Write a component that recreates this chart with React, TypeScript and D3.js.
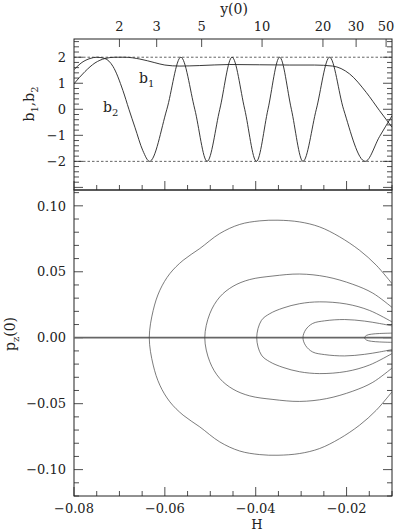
import React, { useEffect, useRef } from "react";
import * as d3 from "d3";

// top panel: b1, b2 against H
const b1H = [-0.08, -0.07758, -0.07538, -0.07319, -0.07099, -0.06879, -0.06549, -0.0622, -0.06, -0.0567, -0.05231, -0.04571, -0.03912, -0.03253, -0.02703, -0.02308, -0.01934, -0.01567, -0.01275, -0.01];
const b1Val = [0.98, 1.45, 1.78, 1.95, 2.0, 2.0, 1.93, 1.79, 1.7, 1.66, 1.68, 1.72, 1.71, 1.7, 1.7, 1.66, 1.36, 0.65, -0.05, -0.69];

const b2H = [-0.08, -0.07824, -0.07648, -0.07495, -0.07319, -0.07143, -0.06923, -0.06791, -0.06659, -0.06484, -0.06336, -0.05956, -0.05648, -0.05341, -0.0507, -0.04791, -0.04521, -0.04242, -0.03985, -0.0373, -0.03473, -0.03215, -0.0296, -0.02666, -0.02374, -0.02066, -0.01589, -0.01275, -0.01];
const b2Val = [1.52, 1.8, 1.95, 2.0, 1.95, 1.65, 0.72, 0.0, -0.69, -1.59, -2.0, 0.0, 2.0, 0.0, -2.0, 0.0, 2.0, 0.0, -2.0, 0.0, 2.0, 0.0, -2.0, 0.0, 2.0, 0.0, -2.0, -1.05, -0.25];

// top axis: y(0) labels and the H each one sits on
const y0Ticks = [2, 3, 5, 10, 20, 30, 50];
const y0AtH = [-0.07, -0.0618, -0.0519, -0.0386, -0.0252, -0.0179, -0.0113];

// bottom panel: p_z(0) loops, upper branch (the lower one is its mirror)
const loop1H = [-0.06343, -0.06257, -0.0611, -0.0589, -0.05598, -0.05231, -0.04791, -0.04352, -0.03912, -0.0351, -0.03033, -0.02593, -0.02154, -0.01714, -0.01347, -0.01];
const loop1P = [0, 0.0207, 0.036, 0.0486, 0.0587, 0.0676, 0.079, 0.0859, 0.0886, 0.0891, 0.0878, 0.084, 0.0765, 0.0663, 0.055, 0.041];
const loop2H = [-0.05121, -0.05011, -0.04791, -0.04499, -0.04132, -0.0362, -0.03033, -0.02446, -0.01862, -0.01422, -0.01];
const loop2P = [0, 0.0182, 0.0309, 0.039, 0.0441, 0.0468, 0.0483, 0.0462, 0.0405, 0.0338, 0.023];
const loop3H = [-0.03978, -0.03875, -0.03692, -0.034, -0.03033, -0.02593, -0.02007, -0.01495, -0.01];
const loop3P = [0, 0.0131, 0.0182, 0.0225, 0.0258, 0.0272, 0.0256, 0.0207, 0.012];
const loop4H = [-0.0296, -0.02901, -0.02747, -0.02484, -0.02044, -0.01604, -0.01275, -0.01];
const loop4P = [0, 0.006, 0.0108, 0.0128, 0.0138, 0.0126, 0.0108, 0.009];
const loop5H = [-0.01604, -0.0156, -0.01451, -0.01275, -0.01];
const loop5P = [0, 0.0018, 0.0027, 0.0032, 0.0035];

const bLabels = [-2, -1, 0, 1, 2];
const pLabels = [-0.1, -0.05, 0, 0.05, 0.1];
const hLabels = [-0.08, -0.06, -0.04, -0.02];

const App = () => {
  const svgRef = useRef<SVGSVGElement>(null);

  useEffect(() => {
    const width = 397;
    const height = 532;
    const left = 74;
    const right = 392;
    const top = 39;
    const mid = 190;
    const bottom = 496;
    const font = "'DejaVu Serif', serif";
    const ink = "#222";

    const svg = d3
      .select(svgRef.current)
      .attr("width", width)
      .attr("height", height)
      .style("font-family", font)
      .style("background", "#fff");

    svg.selectAll("*").remove();

    const x = d3.scaleLinear().domain([-0.08, -0.01]).range([left, right]);
    const yTop = d3.scaleLinear().domain([-3.1, 2.7]).range([mid, top]);
    const yBot = d3.scaleLinear().domain([-0.12, 0.112]).range([bottom, mid]);
    const y0 = d3.scaleLinear().domain(y0Ticks).range(y0AtH.map((h) => x(h)));

    const defs = svg.append("defs");
    defs.append("clipPath").attr("id", "clipTop").append("rect")
      .attr("x", left).attr("y", top).attr("width", right - left).attr("height", mid - top);
    defs.append("clipPath").attr("id", "clipBot").append("rect")
      .attr("x", left).attr("y", mid).attr("width", right - left).attr("height", bottom - mid);

    const ticks = svg.append("g").attr("stroke", ink).attr("stroke-width", 0.8);

    // x ticks (H) on the bottom of both panels
    const hMajor = new Set(hLabels.map((v) => v.toFixed(3)));
    x.ticks(14).forEach((v) => {
      const len = hMajor.has(v.toFixed(3)) ? 9 : 5;
      const px = x(v);
      ticks.append("line").attr("x1", px).attr("x2", px).attr("y1", bottom).attr("y2", bottom - len);
      ticks.append("line").attr("x1", px).attr("x2", px).attr("y1", mid).attr("y2", mid - len);
    });

    // y(0) ticks on top
    y0Ticks.forEach((v) => {
      const px = y0(v);
      ticks.append("line").attr("x1", px).attr("x2", px).attr("y1", top).attr("y2", top + 8);
    });

    // left / right ticks, top panel
    yTop.ticks(29).forEach((v) => {
      const isMajor = Math.abs(v - Math.round(v)) < 1e-6;
      const len = isMajor ? 9 : 5;
      const py = yTop(v);
      ticks.append("line").attr("x1", left).attr("x2", left + len).attr("y1", py).attr("y2", py);
      ticks.append("line").attr("x1", right).attr("x2", right - len).attr("y1", py).attr("y2", py);
    });

    // left / right ticks, bottom panel
    yBot.ticks(23).forEach((v) => {
      const isMajor = Math.abs(v / 0.05 - Math.round(v / 0.05)) < 1e-6;
      const len = isMajor ? 9 : 5;
      const py = yBot(v);
      ticks.append("line").attr("x1", left).attr("x2", left + len).attr("y1", py).attr("y2", py);
      ticks.append("line").attr("x1", right).attr("x2", right - len).attr("y1", py).attr("y2", py);
    });

    // frames
    svg.append("rect").attr("x", left).attr("y", top).attr("width", right - left).attr("height", mid - top)
      .attr("fill", "none").attr("stroke", ink).attr("stroke-width", 1);
    svg.append("rect").attr("x", left).attr("y", mid).attr("width", right - left).attr("height", bottom - mid)
      .attr("fill", "none").attr("stroke", ink).attr("stroke-width", 1);

    // tick labels
    const fmt = (v: number, d: number) => (v < 0 ? "\u2212" : "") + Math.abs(v).toFixed(d);

    svg.append("g").selectAll("text").data(bLabels).join("text")
      .attr("x", left - 8).attr("y", (d) => yTop(d)).attr("dy", "0.36em")
      .attr("text-anchor", "end").style("font-size", "13px").attr("fill", ink)
      .text((d) => fmt(d, 0));

    svg.append("g").selectAll("text").data(pLabels).join("text")
      .attr("x", left - 8).attr("y", (d) => yBot(d)).attr("dy", "0.36em")
      .attr("text-anchor", "end").style("font-size", "13px").attr("fill", ink)
      .text((d) => fmt(d, 2));

    svg.append("g").selectAll("text").data(hLabels).join("text")
      .attr("x", (d) => x(d)).attr("y", 513)
      .attr("text-anchor", "middle").style("font-size", "13px").attr("fill", ink)
      .text((d) => fmt(d, 2));

    svg.append("g").selectAll("text").data(y0Ticks).join("text")
      .attr("x", (d) => y0(d)).attr("y", 31)
      .attr("text-anchor", "middle").style("font-size", "13px").attr("fill", ink)
      .text((d) => String(d));

    // axis titles
    svg.append("text").attr("x", 234).attr("y", 14).attr("text-anchor", "middle")
      .style("font-size", "14px").attr("fill", ink).text("y(0)");
    svg.append("text").attr("x", 257).attr("y", 529).attr("text-anchor", "middle")
      .style("font-size", "13px").attr("fill", ink).text("H");

    const bTitle = svg.append("text").attr("transform", "translate(34,104) rotate(-90)")
      .attr("text-anchor", "middle").style("font-size", "14px").attr("fill", ink);
    bTitle.append("tspan").text("b");
    bTitle.append("tspan").attr("dy", 4).style("font-size", "10px").text("1");
    bTitle.append("tspan").attr("dy", -4).text(",b");
    bTitle.append("tspan").attr("dy", 4).style("font-size", "10px").text("2");

    const pTitle = svg.append("text").attr("transform", "translate(15,334) rotate(-90)")
      .attr("text-anchor", "middle").style("font-size", "14px").attr("fill", ink);
    pTitle.append("tspan").text("p");
    pTitle.append("tspan").attr("dy", 4).style("font-size", "10px").text("z");
    pTitle.append("tspan").attr("dy", -4).text("(0)");

    // in-plot labels
    const l1 = svg.append("text").attr("x", 139).attr("y", 83).style("font-size", "14px").attr("fill", ink);
    l1.append("tspan").text("b");
    l1.append("tspan").attr("dy", 4).style("font-size", "10px").text("1");
    const l2 = svg.append("text").attr("x", 103).attr("y", 112).style("font-size", "14px").attr("fill", ink);
    l2.append("tspan").text("b");
    l2.append("tspan").attr("dy", 4).style("font-size", "10px").text("2");

    // top panel content
    const gTop = svg.append("g").attr("clip-path", "url(#clipTop)");
    [-2, 2].forEach((v) => {
      gTop.append("line").attr("x1", left).attr("x2", right).attr("y1", yTop(v)).attr("y2", yTop(v))
        .attr("stroke", ink).attr("stroke-width", 0.7).attr("stroke-dasharray", "2.5,2");
    });

    const bLine = d3.line<[number, number]>()
      .x((d) => x(d[0]))
      .y((d) => yTop(d[1]))
      .curve(d3.curveMonotoneX);

    gTop.append("path").attr("d", bLine(b1H.map((h, i) => [h, b1Val[i]]) as [number, number][]))
      .attr("fill", "none").attr("stroke", ink).attr("stroke-width", 0.9);
    gTop.append("path").attr("d", bLine(b2H.map((h, i) => [h, b2Val[i]]) as [number, number][]))
      .attr("fill", "none").attr("stroke", ink).attr("stroke-width", 0.9);

    // bottom panel content
    const gBot = svg.append("g").attr("clip-path", "url(#clipBot)");
    gBot.append("line").attr("x1", left).attr("x2", right).attr("y1", yBot(0)).attr("y2", yBot(0))
      .attr("stroke", "#666").attr("stroke-width", 1.8);

    const loopLine = d3.line<[number, number]>()
      .x((d) => x(d[0]))
      .y((d) => yBot(d[1]))
      .curve(d3.curveCatmullRom.alpha(0.5));

    const loops: [number[], number[]][] = [
      [loop1H, loop1P],
      [loop2H, loop2P],
      [loop3H, loop3P],
      [loop4H, loop4P],
      [loop5H, loop5P],
    ];
    loops.forEach(([hs, ps]) => {
      const upper = hs.map((h, i) => [h, ps[i]] as [number, number]);
      const lower = upper.slice(1).map(([h, p]) => [h, -p] as [number, number]).reverse();
      gBot.append("path").attr("d", loopLine([...lower, ...upper]))
        .attr("fill", "none").attr("stroke", "#444").attr("stroke-width", 0.7);
    });
  }, []);

  return (
    <svg ref={svgRef} style={{ position: "absolute", left: 0, top: 0, display: "block" }}></svg>
  );
};

export default App;
